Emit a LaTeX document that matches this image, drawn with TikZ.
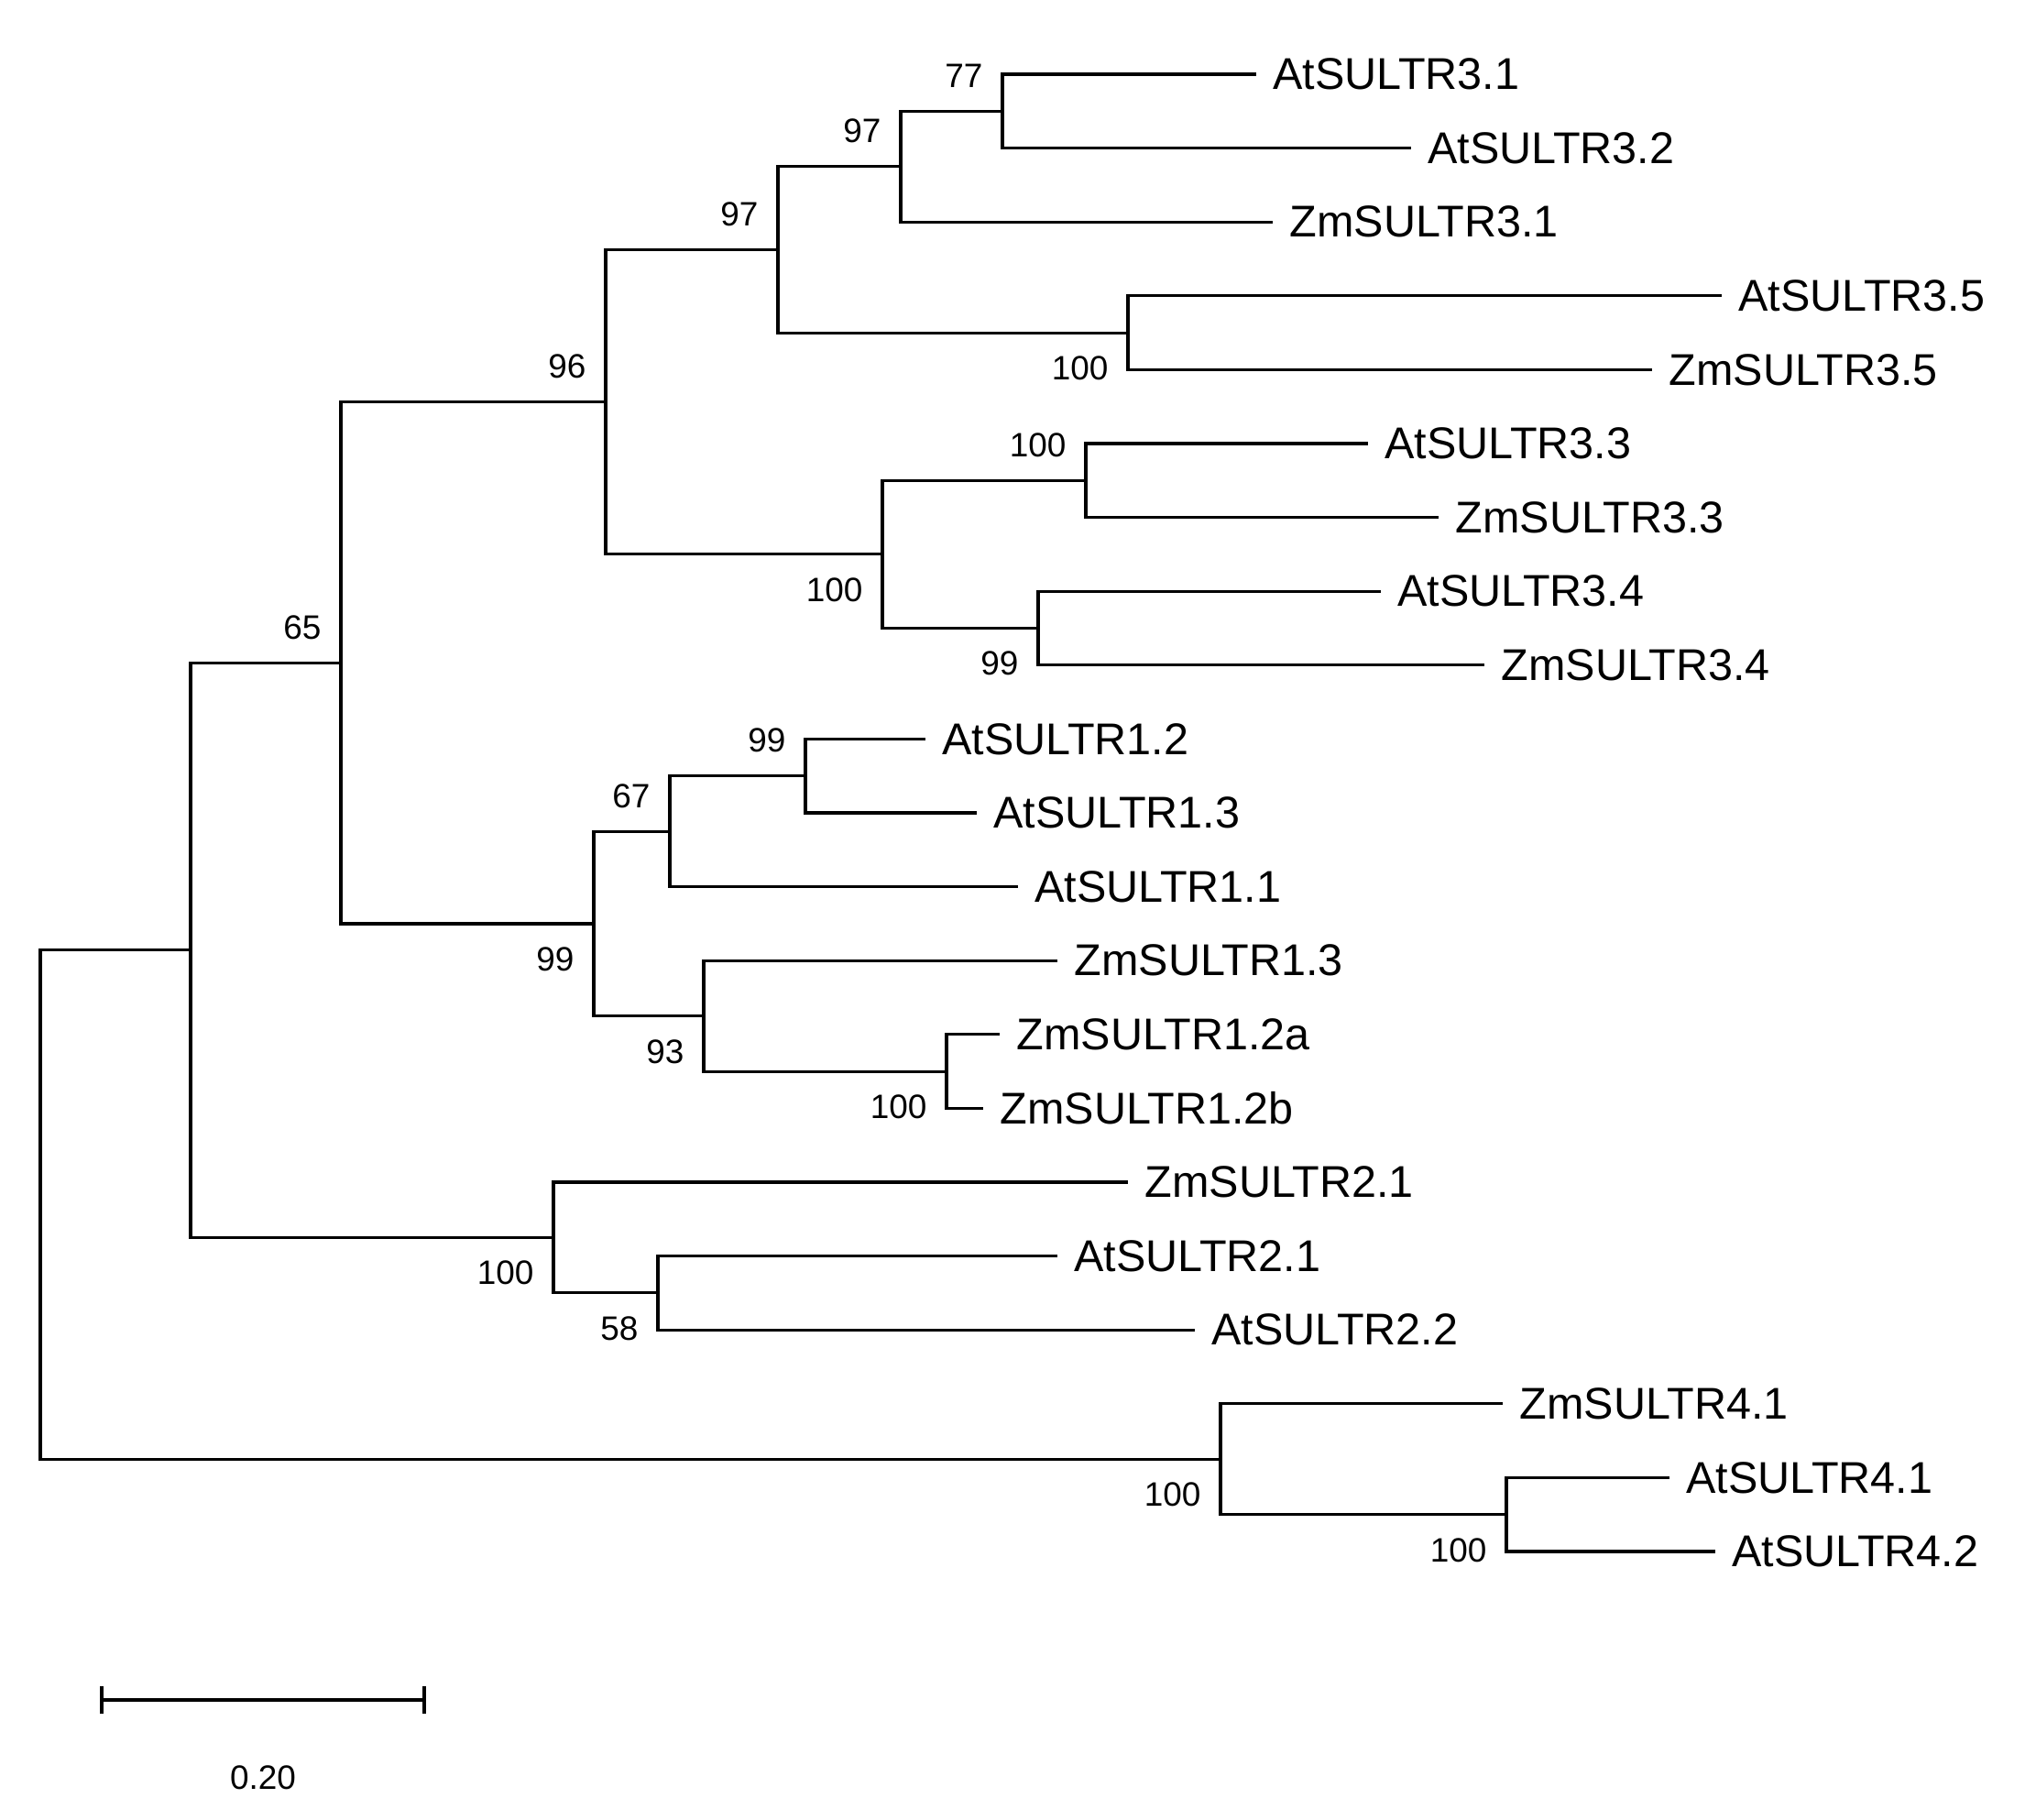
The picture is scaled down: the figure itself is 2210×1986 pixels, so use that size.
\documentclass[tikz,border=0pt]{standalone}
\usepackage{fontspec}
\setmainfont{Liberation Sans}
\usepackage{tikz}
\newcommand{\leaffont}{\fontsize{13.8}{16}\selectfont}
\newcommand{\bsfont}{\fontsize{10.5}{12}\selectfont}

\begin{document}
\begin{tikzpicture}[x=0.01cm,y=-0.01cm,line width=0.9pt,line cap=rect,
  leaf/.style={anchor=west,inner xsep=0.19cm,inner ysep=0pt,font=\leaffont},
  bsup/.style={anchor=south east,inner sep=0pt,font=\bsfont,xshift=-0.2cm,yshift=0.24cm},
  bsdown/.style={anchor=north east,inner sep=0pt,font=\bsfont,xshift=-0.2cm,yshift=-0.24cm}]
\useasboundingbox (0,0) rectangle (2210,1986);
% Reference grid (temporary)
%\draw[help lines,step=100] (0,0) grid (2210,1986);

% leaves: name / end of branch / row / label
\foreach \n/\x/\y/\lbl in {
    at31/1369/81/AtSULTR3.1, at32/1538/161.6/AtSULTR3.2,
    zm31/1387/242.2/ZmSULTR3.1, at35/1877/322.8/AtSULTR3.5,
    zm35/1801/403.4/ZmSULTR3.5, at33/1491/484/AtSULTR3.3,
    zm33/1568/564.6/ZmSULTR3.3, at34/1505/645.2/AtSULTR3.4,
    zm34/1618/725.8/ZmSULTR3.4, at12/1008/806.4/AtSULTR1.2,
    at13/1064/887/AtSULTR1.3, at11/1109/967.6/AtSULTR1.1,
    zm13/1152/1048.2/ZmSULTR1.3, zm12a/1089/1128.8/ZmSULTR1.2a,
    zm12b/1071/1209.4/ZmSULTR1.2b, zm21/1229/1290/ZmSULTR2.1,
    at21/1152/1370.6/AtSULTR2.1, at22/1302/1451.2/AtSULTR2.2,
    zm41/1638/1531.8/ZmSULTR4.1, at41/1820/1612.4/AtSULTR4.1,
    at42/1870/1693/AtSULTR4.2} {
  \node[leaf] (\n) at (\x,\y) {\lbl};
}

% inner nodes
\coordinate (n77) at (1094,121.3);
\coordinate (n97a) at (983,181.75);
\coordinate (n35) at (1231,363.1);
\coordinate (n97b) at (849,272.4);
\coordinate (n33) at (1185,524.3);
\coordinate (n34) at (1133,685.5);
\coordinate (n3334) at (963,604.9);
\coordinate (n96) at (661,438.7);
\coordinate (n12) at (879,846.7);
\coordinate (n67) at (731,907.2);
\coordinate (n12ab) at (1033,1169.1);
\coordinate (n93) at (768,1108.7);
\coordinate (n1) at (648,1008);
\coordinate (n65) at (372,723.3);
\coordinate (n58) at (718,1410.9);
\coordinate (n2) at (604,1350.5);
\coordinate (nin) at (208,1036.9);
\coordinate (n4b) at (1644,1652.7);
\coordinate (n4) at (1332,1592.3);
\coordinate (root) at (44,1314.6);

% branches
\foreach \p/\c in {n77/at31.west, n77/at32.west, n97a/n77, n97a/zm31.west,
    n35/at35.west, n35/zm35.west, n97b/n97a, n97b/n35,
    n33/at33.west, n33/zm33.west, n34/at34.west, n34/zm34.west,
    n3334/n33, n3334/n34, n96/n97b, n96/n3334,
    n12/at12.west, n12/at13.west, n67/n12, n67/at11.west,
    n12ab/zm12a.west, n12ab/zm12b.west, n93/zm13.west, n93/n12ab,
    n1/n67, n1/n93, n65/n96, n65/n1,
    n58/at21.west, n58/at22.west, n2/zm21.west, n2/n58,
    nin/n65, nin/n2,
    n4b/at41.west, n4b/at42.west, n4/zm41.west, n4/n4b,
    root/nin, root/n4} {
  \draw (\p) |- (\c);
}

% bootstrap values
\node[bsup] (b77) at (n77) {77};
\node[bsup] (b97a) at (n97a) {97};
\node[bsup] (b97b) at (n97b) {97};
\node[bsup] (b96) at (n96) {96};
\node[bsup] (b65) at (n65) {65};
\node[bsup] (b33) at (n33) {100};
\node[bsup] (b12) at (n12) {99};
\node[bsup] (b67) at (n67) {67};
\node[bsdown] (b35) at (n35) {100};
\node[bsdown] (b3334) at (n3334) {100};
\node[bsdown] (b34) at (n34) {99};
\node[bsdown] (b1) at (n1) {99};
\node[bsdown] (b93) at (n93) {93};
\node[bsdown] (b12ab) at (n12ab) {100};
\node[bsdown] (b2) at (n2) {100};
\node[bsdown] (b58) at (n58) {58};
\node[bsdown] (b4) at (n4) {100};
\node[bsdown] (b4b) at (n4b) {100};

% scale bar
\coordinate (sbl) at (111,1855);
\coordinate (sbr) at (463,1855);
\draw (sbl) -- (sbr);
\draw ([yshift=0.13cm]sbl) -- ([yshift=-0.13cm]sbl);
\draw ([yshift=0.13cm]sbr) -- ([yshift=-0.13cm]sbr);
\node[font=\bsfont,inner sep=0pt] (sbtext) at (287,1940) {0.20};
\end{tikzpicture}
\end{document}
